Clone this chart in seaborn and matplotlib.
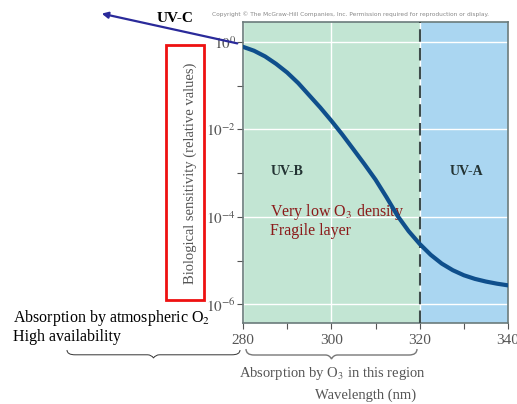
import numpy as np
import pandas as pd
import matplotlib
matplotlib.use("Agg")
import matplotlib.pyplot as plt
import seaborn as sns
from matplotlib.path import Path
from matplotlib.patches import PathPatch, Rectangle, FancyArrowPatch
from matplotlib.ticker import NullFormatter, FixedLocator

# ---- data ----
wavelength = [280, 282.5, 285, 287.5, 290, 292.5, 295, 297.5, 300, 302.5, 305, 307.5,
              310, 312.5, 315, 317.5, 320, 322.5, 325, 327.5, 330, 332.5, 335, 337.5, 340]
sensitivity = [0.776, 0.631, 0.468, 0.316, 0.200, 0.115, 0.0603, 0.0316, 0.0158, 7.6e-3,
               3.5e-3, 1.6e-3, 7.1e-4, 2.8e-4, 1.05e-4, 4.7e-5, 2.4e-5, 1.35e-5, 8.5e-6,
               6.0e-6, 4.6e-6, 3.8e-6, 3.3e-6, 2.95e-6, 2.7e-6]
band_names = ["UV-B", "UV-A"]
band_edges = [280, 320, 340]
band_colors = ["#c2e5d3", "#aad6f1"]
xticks = [280, 300, 320, 340]
yticks = [1e0, 1e-2, 1e-4, 1e-6]
ytick_labels = [r"$10^{0}$", r"$10^{-2}$", r"$10^{-4}$", r"$10^{-6}$"]

df = pd.DataFrame({"wavelength": wavelength, "sensitivity": sensitivity})

sns.set_style("ticks")
plt.rcParams["font.family"] = ["Liberation Serif", "DejaVu Serif"]
plt.rcParams["mathtext.fontset"] = "stix"

fig = plt.figure(figsize=(5.17, 4.04), dpi=100)
ax = fig.add_axes([243 / 517, 1 - 323 / 404, 265 / 517, 301 / 404])

# background bands
for i, name in enumerate(band_names):
    ax.axvspan(band_edges[i], band_edges[i + 1], color=band_colors[i], zorder=0, lw=0)

sns.lineplot(data=df, x="wavelength", y="sensitivity", ax=ax, color="#0f4f8c",
             lw=3, zorder=4)

ax.set_yscale("log")
ax.set_xlim(280, 340)
ax.set_ylim(10 ** -6.43, 10 ** 0.458)
ax.set_xticks(xticks)
ax.set_xticks([290, 310, 330], minor=True)
ax.yaxis.set_major_locator(FixedLocator(yticks))
ax.yaxis.set_minor_locator(FixedLocator([1e-1, 1e-3, 1e-5]))
ax.yaxis.set_minor_formatter(NullFormatter())
ax.set_yticklabels(ytick_labels)
ax.tick_params(axis="both", which="both", colors="#555555", labelsize=11,
               direction="out", length=4, width=0.8)
ax.tick_params(axis="y", pad=1)
ax.tick_params(axis="x", pad=4)
ax.grid(False, which="minor")
ax.grid(True, which="major", color="white", lw=1)
ax.set_axisbelow(True)
ax.axvline(band_edges[1], color="#3e4c4c", ls=(0, (6, 3)), lw=1.5, zorder=3)
for s in ax.spines.values():
    s.set_color("#6b7b7b")
    s.set_linewidth(1.2)
ax.set_xlabel("")
ax.set_ylabel("")

# band labels
ax.text(290, 10 ** -2.97, "UV-B", ha="center", va="center", fontsize=10,
        fontweight="bold", color="#233333")
ax.text(330.5, 10 ** -2.97, "UV-A", ha="center", va="center", fontsize=10,
        fontweight="bold", color="#233333")
ax.text(286, 10 ** -3.9, "Very low O$_3$ density", ha="left", va="center",
        fontsize=11.5, color="#8b1a1a")
ax.text(286, 10 ** -4.33, "Fragile layer", ha="left", va="center",
        fontsize=11.5, color="#8b1a1a")

# figure-level annotations (pixel coords from top-left)
def fx(px):
    return px / 517

def fy(py):
    return 1 - py / 404

fig.text(fx(350), fy(14), "Copyright \u00a9 The McGraw-Hill Companies, Inc. Permission required for reproduction or display.",
         ha="center", va="center", fontsize=4.2, color="#888888", family="DejaVu Sans")
fig.text(fx(175), fy(18), "UV-C", ha="center", va="center", fontsize=11,
         fontweight="bold", color="black")
fig.patches.append(FancyArrowPatch((fx(240), fy(44)), (fx(99), fy(13)),
                                   transform=fig.transFigure, arrowstyle="-|>",
                                   mutation_scale=9, color="#2a2a9a", lw=1.6))
fig.patches.append(Rectangle((fx(166), fy(300)), fx(38), 255 / 404,
                             transform=fig.transFigure, fill=False,
                             edgecolor="#ee1111", lw=2))
fig.text(fx(190), fy(173), "Biological sensitivity (relative values)", rotation=90,
         ha="center", va="center", fontsize=10.5, color="#555555")
fig.text(fx(13), fy(318), "Absorption by atmospheric O$_2$", ha="left", va="center",
         fontsize=11.5, color="black")
fig.text(fx(13), fy(337), "High availability", ha="left", va="center",
         fontsize=11.5, color="black")
fig.text(fx(332), fy(373), "Absorption by O$_3$ in this region", ha="center",
         va="center", fontsize=10.5, color="#555555")
fig.text(fx(366), fy(395), "Wavelength (nm)", ha="center", va="center",
         fontsize=10.5, color="#555555")


def brace(x0, x1, ytop, depth, color, lw):
    xm = (x0 + x1) / 2
    d = depth
    verts = [(x0, ytop), (x0, ytop + d * 0.6), (x0 + 8, ytop + d * 0.6), (x0 + 12, ytop + d * 0.6),
             (xm - 6, ytop + d * 0.6), (xm - 2, ytop + d * 0.6), (xm, ytop + d),
             (xm + 2, ytop + d * 0.6), (xm + 6, ytop + d * 0.6), (x1 - 12, ytop + d * 0.6),
             (x1 - 8, ytop + d * 0.6), (x1, ytop + d * 0.6), (x1, ytop)]
    codes = [Path.MOVETO, Path.CURVE3, Path.CURVE3, Path.LINETO,
             Path.LINETO, Path.CURVE3, Path.CURVE3,
             Path.CURVE3, Path.CURVE3, Path.LINETO,
             Path.LINETO, Path.CURVE3, Path.CURVE3]
    verts = [(fx(a), fy(b)) for a, b in verts]
    fig.patches.append(PathPatch(Path(verts, codes), transform=fig.transFigure,
                                 fill=False, edgecolor=color, lw=lw))


brace(67, 240, 350, 8, "#333333", 0.7)
brace(246, 417, 349, 10, "#777777", 1.0)

fig.savefig("out.png", dpi=100)
